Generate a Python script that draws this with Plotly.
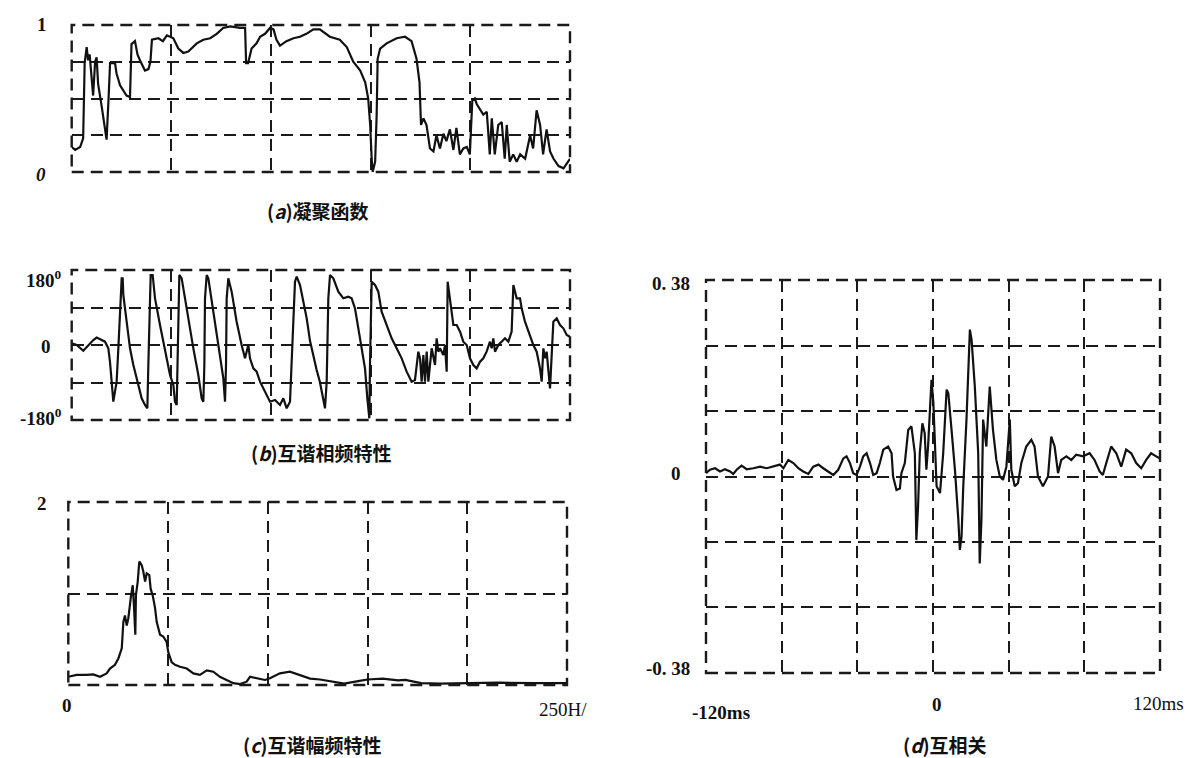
import plotly.graph_objects as go

# ---------------- data ----------------
# (a) coherence function, x in 0..100 (relative frequency), y 0..1
a_x = [0, 0.7, 1.7, 2.3, 2.6, 3.0, 3.3, 3.6, 4.3, 4.7,
       5.0, 5.3, 6.0, 7.0, 7.4, 7.7, 8.7, 9.0, 9.7, 11.0,
       11.7, 12.0, 12.7, 13.2, 13.7, 14.7, 15.4, 15.8, 16.1, 17.4,
       18.3, 19.1, 20.4, 21.4, 22.4, 23.4, 25.1, 26.4, 27.8, 29.1,
       30.4, 31.8, 33.8, 34.8, 35.0, 35.4, 36.1, 37.1, 37.8, 38.8,
       39.8, 40.5, 41.1, 41.8, 43.1, 44.5, 45.8, 47.1, 48.5, 49.8,
       51.8, 53.8, 55.2, 56.5, 57.9, 58.9, 59.5, 59.9, 60.2, 60.4,
       60.9, 61.2, 61.4, 61.9, 63.2, 65.2, 66.9, 68.2, 69.2, 69.8,
       70.1, 70.6, 71.2, 71.9, 72.6, 73.2, 73.9, 74.6, 75.2, 75.9,
       76.6, 77.2, 77.9, 78.6, 79.3, 79.9, 80.4, 80.9, 81.3, 81.9,
       82.6, 83.3, 83.9, 84.3, 84.9, 85.6, 86.3, 86.9, 87.3, 87.9,
       88.6, 89.3, 90.0, 91.0, 92.0, 92.6, 93.3, 94.0, 94.6, 95.3,
       96.0, 96.7, 97.7, 98.7, 99.7, 100]
a_y = [0.17, 0.15, 0.17, 0.23, 0.74, 0.85, 0.76, 0.80, 0.52, 0.75,
       0.78, 0.60, 0.45, 0.22, 0.50, 0.74, 0.74, 0.67, 0.59, 0.52,
       0.51, 0.87, 0.89, 0.80, 0.76, 0.69, 0.70, 0.75, 0.90, 0.91,
       0.89, 0.93, 0.91, 0.84, 0.81, 0.82, 0.875, 0.90, 0.91, 0.94,
       0.98, 0.99, 0.98, 0.98, 0.74, 0.74, 0.84, 0.875, 0.92, 0.94,
       0.98, 0.97, 0.90, 0.86, 0.89, 0.91, 0.92, 0.94, 0.97, 0.97,
       0.92, 0.90, 0.85, 0.75, 0.69, 0.61, 0.50, 0.32, 0.09, 0.0,
       0.07, 0.39, 0.77, 0.84, 0.875, 0.91, 0.92, 0.89, 0.77, 0.61,
       0.32, 0.365, 0.32, 0.16, 0.14, 0.25, 0.16, 0.26, 0.21, 0.29,
       0.15, 0.30, 0.12, 0.16, 0.17, 0.12, 0.49, 0.50, 0.46, 0.43,
       0.39, 0.41, 0.12, 0.365, 0.12, 0.32, 0.34, 0.09, 0.32, 0.07,
       0.12, 0.07, 0.12, 0.09, 0.25, 0.16, 0.42, 0.32, 0.12, 0.29,
       0.14, 0.09, 0.04, 0.025, 0.07, 0.09]

# (b) cross-spectrum phase, degrees
b_x = [0, 1.0, 2.33, 3.67, 4.34, 5.0, 6.0, 6.68, 7.35, 7.68,
       8.02, 8.35, 8.69, 9.02, 9.36, 9.69, 10.03, 10.23, 10.36, 11.03,
       11.70, 12.37, 13.37, 14.04, 14.71, 15.18, 15.38, 15.58, 15.85, 16.25,
       16.72, 17.72, 18.72, 19.73, 20.40, 20.73, 21.07, 21.20, 21.40, 21.60,
       22.07, 22.74, 23.41, 24.41, 25.41, 26.08, 26.42, 26.62, 26.75, 27.09,
       27.42, 28.42, 29.43, 30.43, 30.77, 30.97, 31.1, 31.43, 32.1, 33.1,
       34.1, 34.78, 35.45, 35.78, 36.45, 37.12, 37.79, 38.46, 39.13, 39.8,
       40.8, 41.8, 42.47, 43.14, 43.81, 44.14, 44.48, 44.81, 45.15, 45.82,
       46.49, 47.16, 47.82, 48.5, 49.16, 49.8,
       50.5, 50.83, 51.17, 51.5, 51.84, 52.5, 53.51, 54.51, 55.51, 56.18,
       56.85, 57.52, 58.19, 58.86, 59.33, 59.73, 59.86, 60.06, 60.2, 60.87,
       61.53, 62.2, 63.21, 64.21, 65.21, 66.22, 67.22, 68.22, 68.89, 69.56,
       69.9, 70.23, 70.57, 70.9, 71.24, 71.57, 72.24, 72.91, 73.24, 73.58,
       73.91, 74.58, 74.92, 75.25, 75.45, 75.92, 76.26, 76.59, 77.26, 77.93,
       78.59, 79.26, 79.93, 80.6, 81.27, 81.94, 82.6, 83.27, 83.94, 84.28,
       84.61, 84.95, 85.62, 86.29, 86.96, 87.63, 88.29, 88.63, 88.96, 89.3,
       89.97, 90.3, 90.97, 91.98, 92.64, 93.31, 93.98, 94.32, 94.65, 94.99,
       95.32, 95.99, 96.33, 96.66, 97.33, 98.0, 98.67, 99.34, 100]
b_y = [4, 0, -14, 4, 12, 18, 12, 8, -8, -40,
       -88, -136, -112, -88, -8, 88, 160, 160, 120, 56,
       -8, -48, -96, -128, -144, -152, -48, 72, 168, 168,
       112, 48, -16, -72, -96, -136, -144, -48, 112, 168,
       160, 112, 56, -8, -72, -128, -136, -48, 112, 168,
       160, 80, 8, -80, -136, -48, 112, 160, 128, 56,
       0, -32, 0, -32, -56, -64, -88, -104, -120, -136,
       -132, -144, -128, -152, -136, -48, 72, 152, 164, 144,
       104, 64, 10, -30, -60, -88,
       -128, -152, -88, 112, 168, 160, 128, 112, 116, 112,
       88, 40, 0, -56, -128, -176, -48, 112, 152, 144,
       128, 80, 48, 16, -8, -32, -64, -88, -84, -16,
       -32, -88, -24, -88, -16, -88, -8, -48, 16, -16,
       -8, -24, 0, -64, 152, 112, 72, 48, 48, 32,
       8, 0, -32, -48, -56, -40, -32, -16, 8, -8,
       16, -16, 0, 8, 16, 8, 32, 144, 128, 112,
       112, 88, 56, 24, 0, -16, -56, -88, -8, -32,
       -16, -104, -16, 56, 64, 48, 40, 24, 20]

# (c) cross-spectrum magnitude, Hz 0..250
c_x = [0, 4.2, 9.2, 12.5, 15.9, 19.2, 20.9, 23.4, 25.1, 26.8,
       27.6, 28.4, 29.3, 30.1, 31.3, 32.3, 32.9, 33.6, 33.9, 34.8,
       35.6, 36.8, 37.6, 38.5, 39.3, 40.6, 41.3, 42.3, 43.5, 44.3,
       46.0, 47.6, 49.3, 50.1, 51.8, 53.5, 56.0, 59.4, 62.7, 66.0,
       69.4, 72.7, 76.0, 79.4, 82.7, 86.1, 89.4, 91.1, 94.4, 98.6,
       101.1, 106.1, 111.1, 116.2, 121.2, 126.2, 132.0, 138.3, 146.0, 149.9,
       157.6, 165.3, 169.0, 176.8, 186.4, 196.0, 205.7, 215.3, 234.5, 250.0]
c_y = [0.09, 0.11, 0.11, 0.116, 0.09, 0.127, 0.18, 0.22, 0.29, 0.40,
       0.69, 0.76, 0.65, 0.73, 0.95, 1.09, 0.87, 0.55, 0.98, 1.13,
       1.35, 1.31, 1.24, 1.13, 1.22, 1.20, 1.05, 0.98, 0.84, 0.69,
       0.55, 0.53, 0.47, 0.36, 0.25, 0.22, 0.20, 0.18, 0.127, 0.11,
       0.16, 0.145, 0.09, 0.055, 0.02, 0.01, 0.036, 0.09, 0.073, 0.055,
       0.073, 0.127, 0.145, 0.11, 0.07, 0.06, 0.035, 0.015, 0.045, 0.06,
       0.07, 0.05, 0.055, 0.02, 0.015, 0.02, 0.025, 0.025, 0.02, 0.02]

# (d) cross-correlation, ms -120..120
d_x = [-120, -117.9, -115.2, -112.6, -110, -107.3, -105.6, -103.8, -101.2, -98.5,
       -95, -91.4, -87.9, -84.4, -80.9, -79.1, -76.5, -73.8, -71.2, -68.6,
       -65.9, -63.3, -60.6, -58, -55.3, -52.7, -50.1, -47.4, -45.7, -43.9,
       -42.2, -40.4, -38.6, -36.9, -35.1, -33.3, -31.6, -29.8, -28.1, -26.3,
       -23.7, -21.9, -21.1, -19.3, -17.5, -16.7, -14.9, -13.1, -11.4, -9.6,
       -8.8, -7.9, -7.0, -5.6, -4.4, -3.5, -2.6, -1.7, -0.8, 0.2,
       1.9, 3.7, 5.4, 7.2, 8.1, 9.8, 11.6, 13.4, 14.2, 15.1,
       16.0, 17.7, 19.5, 20.4, 22.1, 23.9, 24.7, 25.6, 26.5, 28.2,
       30.0, 31.7, 33.5, 35.3, 37.0, 38.8, 40.6, 41.4, 43.2, 44.9,
       46.7, 49.3, 52.0, 53.7, 55.5, 58.1, 60.8, 62.5, 64.3, 66.1,
       67.8, 70.5, 73.1, 75.7, 79.3, 82.8, 85.4, 88.1, 89.8, 91.6,
       94.2, 96.9, 99.5, 102.1, 104.8, 107.4, 110.1, 112.7, 115.3, 118.0,
       119.8]
d_y = [0.0065, 0.013, 0.016, 0.0097, 0.014, 0.0097, 0.005, 0.013, 0.021, 0.014,
       0.016, 0.019, 0.016, 0.019, 0.023, 0.016, 0.032, 0.026, 0.016, 0.0097,
       0.005, 0.019, 0.023, 0.016, 0.0097, 0.003, 0.013, 0.035, 0.039, 0.026,
       0.0065, 0.003, 0.019, 0.039, 0.045, 0.026, 0.003, 0.0065, 0.026, 0.052,
       0.058, 0.045, 0.0, -0.026, -0.023, 0.0065, 0.026, 0.09, 0.097, 0.045,
       -0.123, -0.058, 0.045, 0.103, 0.084, 0.013, 0.058, 0.116, 0.187, 0.142,
       -0.019, -0.032, 0.045, 0.168, 0.161, 0.09, 0.013, -0.084, -0.142, -0.116,
       -0.019, 0.11, 0.284, 0.264, 0.174, 0.045, -0.168, -0.084, 0.11, 0.058,
       0.174, 0.09, 0.032, 0.0, -0.0065, 0.019, 0.11, 0.013, -0.019, -0.013,
       0.026, 0.058, 0.071, 0.058, 0.0, -0.019, 0.0, 0.077, 0.058, 0.0065,
       0.032, 0.039, 0.032, 0.042, 0.039, 0.045, 0.032, 0.0097, 0.003, 0.026,
       0.058, 0.045, 0.019, 0.052, 0.045, 0.026, 0.016, 0.032, 0.045, 0.039,
       0.035]

# grid positions and ranges
a_xgrid = [20, 40, 60, 80]
a_ygrid = [0.25, 0.5, 0.75]
b_ygrid = [-90, 0, 90]
c_xgrid = [50, 100, 150, 200]
c_ygrid = [1]
d_xgrid = [-80, -40, 0, 40, 80]
d_ygrid = [-0.2533, -0.1267, 0, 0.1267, 0.2533]

W, H = 1204, 758


def px(x):
    return x / W


def py(y):
    return 1 - y / H


fig = go.Figure()

panels = [
    # x data, y data, x domain px, y domain px (top, bottom), xrange, yrange, xgrid, ygrid
    (a_x, a_y, (71.7, 570), (25, 172), (0, 100), (0, 1), a_xgrid, a_ygrid),
    (b_x, b_y, (71.7, 570), (270, 420), (0, 100), (-180, 180), a_xgrid, b_ygrid),
    (c_x, c_y, (68.3, 567), (502, 685), (0, 250), (0, 2), c_xgrid, c_ygrid),
    (d_x, d_y, (706, 1160), (280, 673), (-120, 120), (-0.38, 0.38), d_xgrid, d_ygrid),
]

DASH = "12px,7px"
layout_axes = {}
shapes = []
for i, (xs, ys, xd, yd, xr, yr, xg, yg) in enumerate(panels, start=1):
    sfx = "" if i == 1 else str(i)
    fig.add_trace(go.Scatter(
        x=xs, y=ys, mode="lines", xaxis="x" + sfx, yaxis="y" + sfx,
        line=dict(color="#111111", width=2.2), showlegend=False,
        hoverinfo="skip"))
    common = dict(showgrid=True, gridcolor="#1a1a1a", gridwidth=1.8, griddash=DASH,
                  zeroline=False, showticklabels=False, ticks="", showline=False)
    layout_axes["xaxis" + sfx] = dict(common, domain=[px(xd[0]), px(xd[1])], range=list(xr),
                                      tickmode="array", tickvals=xg, anchor="y" + sfx)
    layout_axes["yaxis" + sfx] = dict(common, domain=[py(yd[1]), py(yd[0])], range=list(yr),
                                      tickmode="array", tickvals=yg, anchor="x" + sfx)
    shapes.append(dict(type="rect", xref="x" + sfx + " domain", yref="y" + sfx + " domain",
                       x0=0, x1=1, y0=0, y1=1,
                       line=dict(color="#1a1a1a", width=2.4, dash=DASH)))

NUM = dict(family="Liberation Serif", size=19, color="#111111")
CAP = dict(family="Noto Sans CJK SC", size=19, color="#111111")

labels = [
    ("<b>1</b>", 42, 25, "center", NUM),
    ("<b><i>0</i></b>", 41, 174, "center", NUM),
    ("<b>180<sup>0</sup></b>", 64, 279, "right", NUM),
    ("<b>0</b>", 46, 346, "center", NUM),
    ("<b>-180<sup>0</sup></b>", 64, 417, "right", NUM),
    ("<b>2</b>", 42, 503, "center", NUM),
    ("<b>0</b>", 67, 705, "center", NUM),
    ("250H/", 537, 709, "left", NUM),
    ("<b>0. 38</b>", 692, 284, "right", NUM),
    ("<b>0</b>", 676, 473, "center", NUM),
    ("<b>-0. 38</b>", 692, 668, "right", NUM),
    ("<b>-120ms</b>", 721, 712, "center", NUM),
    ("<b>0</b>", 937, 704, "center", NUM),
    ("120ms", 1158, 703, "center", NUM),
    ("<b>(<i>a</i>)凝聚函数</b>", 318, 210, "center", CAP),
    ("<b>(<i>b</i>)互谐相频特性</b>", 322, 452, "center", CAP),
    ("<b>(<i>c</i>)互谐幅频特性</b>", 312, 744, "center", CAP),
    ("<b>(<i>d</i>)互相关</b>", 945, 744, "center", CAP),
]
annotations = [dict(text=t, x=px(x), y=py(y), xref="paper", yref="paper",
                    xanchor=anc, yanchor="middle", showarrow=False, font=f)
               for t, x, y, anc, f in labels]

fig.update_layout(
    width=W, height=H, margin=dict(l=0, r=0, t=0, b=0),
    paper_bgcolor="white", plot_bgcolor="white",
    shapes=shapes, annotations=annotations, showlegend=False,
    **layout_axes)

# remove the default 8px page margin so the figure fills the window exactly
fig.write_html("out.html", config={"displayModeBar": False},
               post_script="document.body.style.margin='0';document.body.style.overflow='hidden';")
